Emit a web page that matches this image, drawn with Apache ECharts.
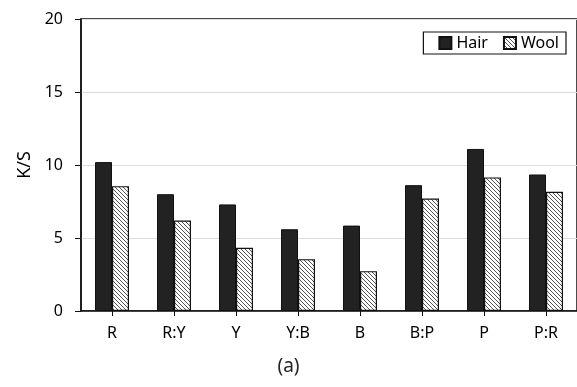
<!DOCTYPE html>
<html><head><meta charset="utf-8">
<script src="https://cdn.jsdelivr.net/npm/echarts@6/dist/echarts.min.js"></script>
<style>html,body{margin:0;padding:0;background:#fff}#c{width:577px;height:387px}</style>
</head><body><div id="c"></div>
<script>
const categories = ['R','R:Y','Y','Y:B','B','B:P','P','P:R'];
const hair = [10.2, 8.0, 7.3, 5.6, 5.85, 8.62, 11.1, 9.35];
const wool = [8.55, 6.2, 4.33, 3.55, 2.73, 7.7, 9.15, 8.16];
const yTicks = [0, 5, 10, 15, 20];

function hatch(){
  const c = document.createElement('canvas');
  c.width = 4; c.height = 4;
  const g = c.getContext('2d');
  g.fillStyle = '#fff'; g.fillRect(0,0,4,4);
  g.strokeStyle = '#555'; g.lineWidth = 1;
  g.beginPath();
  g.moveTo(-1,-1); g.lineTo(5,5);
  g.moveTo(-1,3); g.lineTo(1,5);
  g.moveTo(3,-1); g.lineTo(5,1);
  g.stroke();
  return c;
}
const font = '"Noto Sans", "Open Sans", sans-serif';
const chart = echarts.init(document.getElementById('c'));
chart.setOption({
  animation: false,
  grid: {left: 81, right: -1, top: 19, bottom: 76, show: true, borderColor: '#111', borderWidth: 1.5, backgroundColor: 'transparent'},
  legend: {
    right: 11, top: 32, orient: 'horizontal',
    borderColor: '#111', borderWidth: 1.2, padding: [3, 7, 3, 15],
    itemWidth: 12, itemHeight: 12, itemGap: 15,
    textStyle: {fontFamily: font, fontSize: 16, color: '#000', padding: [0,0,0,0]},
    data: [{name:'Hair', icon:'rect'}, {name:'Wool', icon:'rect'}]
  },
  xAxis: {
    type: 'category', data: categories,
    axisLine: {lineStyle: {color: '#111', width: 1.5}},
    axisTick: {show: true, alignWithLabel: true, length: 5, lineStyle: {color: '#111'}},
    axisLabel: {fontFamily: font, fontSize: 16, color: '#000', margin: 14}
  },
  yAxis: {
    type: 'value', min: 0, max: 20, interval: 5,
    name: 'K/S', nameLocation: 'middle', nameGap: 38, nameRotate: 90,
    nameTextStyle: {fontFamily: font, fontSize: 18, color: '#000'},
    axisLine: {show: true, lineStyle: {color: '#111', width: 1.5}},
    axisTick: {show: true, length: 6, lineStyle: {color: '#111'}},
    axisLabel: {fontFamily: font, fontSize: 16, color: '#000', margin: 18},
    splitLine: {show: true, lineStyle: {color: '#ddd', width: 1}}
  },
  series: [
    {name: 'Hair', type: 'bar', data: hair, barWidth: 17, barGap: '0%',
     itemStyle: {color: '#222', borderColor: '#111', borderWidth: 1}},
    {name: 'Wool', type: 'bar', data: wool, barWidth: 17,
     itemStyle: {color: {image: hatch(), repeat: 'repeat'}, borderColor: '#111', borderWidth: 1.2}}
  ],
  graphic: [{type: 'text', left: 'center', top: 357, style: {text: '(a)', fontFamily: '"Noto Sans", sans-serif', fontSize: 19, fill: '#222'}}]
});
</script></body></html>
